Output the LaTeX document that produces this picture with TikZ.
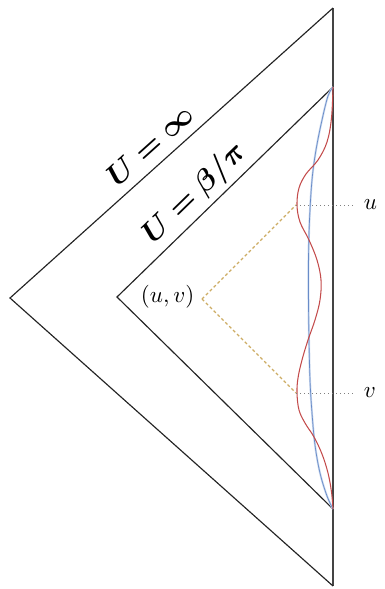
\documentclass[tikz,border=0pt]{standalone}
\usepackage{amsmath,bm}
\definecolor{tanc}{RGB}{205,172,100}
\definecolor{redc}{RGB}{195,75,75}
\definecolor{bluec}{RGB}{105,140,200}
\definecolor{bluelight}{RGB}{200,215,238}
\definecolor{linec}{RGB}{35,35,35}
\tikzset{
  edge/.style={draw=linec, line width=1.15pt},
  axis/.style={draw=linec!85!white, line width=1.5pt},
  dashtan/.style={draw=tanc, line width=1.3pt, dash pattern=on 3pt off 2.5pt},
  dotgray/.style={draw=gray, line width=1pt, dash pattern=on 1pt off 3pt},
  redcurve/.style={draw=redc, line width=1.05pt},
  bluecurve/.style={draw=bluec, line width=0.7pt},
  lbl/.style={scale=2.3, inner sep=1pt},
  biglbl/.style={scale=3.0, inner sep=1pt},
}
\begin{document}
\begin{tikzpicture}[x=1pt,y=-1pt]
\useasboundingbox (0,0) rectangle (384,589);
% outer triangle
\coordinate (OT) at (333,8);
\coordinate (OL) at (10,298);
\coordinate (OB) at (333,586);
% inner triangle
\coordinate (IT) at (333,87);
\coordinate (IL) at (117,297);
\coordinate (IB) at (333,509);
% points
\coordinate (P) at (202,299);
\coordinate (U) at (296,205);
\coordinate (V) at (296,393);
\coordinate (Ue) at (355,205);
\coordinate (Ve) at (355,393);

\draw[axis] (OT) -- (OB);
\draw[edge] (OT) -- (OL) -- (OB);
\draw[edge] (IT) -- (IL) -- (IB);

% blue curve
\draw[draw=bluelight, line width=2pt] plot[smooth, tension=0.6] coordinates {(IT) (328,96) (322,120) (316,150) (312,180) (309.5,220) (308.5,260) (308.5,300) (309,340) (310,380) (312,413) (315,445) (320,473) (327,496) (IB)};
\draw[bluecurve] plot[smooth, tension=0.6] coordinates {(IT) (328,96) (322,120) (316,150) (312,180) (309.5,220) (308.5,260) (308.5,300) (309,340) (310,380) (312,413) (315,445) (320,473) (327,496) (IB)};

% red curve
\draw[redcurve] plot[smooth, tension=0.6] coordinates {(IT) (331.5,118) (327,142) (318,160) (306,174) (299,188) (297,205) (300,222) (309,240) (317,260) (321,280) (320,300) (315,320) (308,340) (302,360) (298,378) (297,393) (299,410) (305,423) (314,437) (322,454) (328,473) (331.5,492) (IB)};

% dashed light-cone lines
\draw[dashtan] (P) -- (U);
\draw[dashtan] (P) -- (V);
% dotted guides
\draw[dotgray] (U) -- (Ue);
\draw[dotgray] (V) -- (Ve);

% labels
\node[lbl, anchor=west] (ul) at (361,205) {$u$};
\node[lbl, anchor=west] (vl) at (361,393) {$v$};
\node[lbl, anchor=east] (uv) at (197,297) {$(u,v)$};
\node[biglbl, rotate=41.9] (linf) at (150,145) {$\boldsymbol{U=\infty}$};
\node[biglbl, rotate=44.2] (lbp) at (195,194) {$\boldsymbol{U=\beta/\pi}$};
\end{tikzpicture}
\end{document}
